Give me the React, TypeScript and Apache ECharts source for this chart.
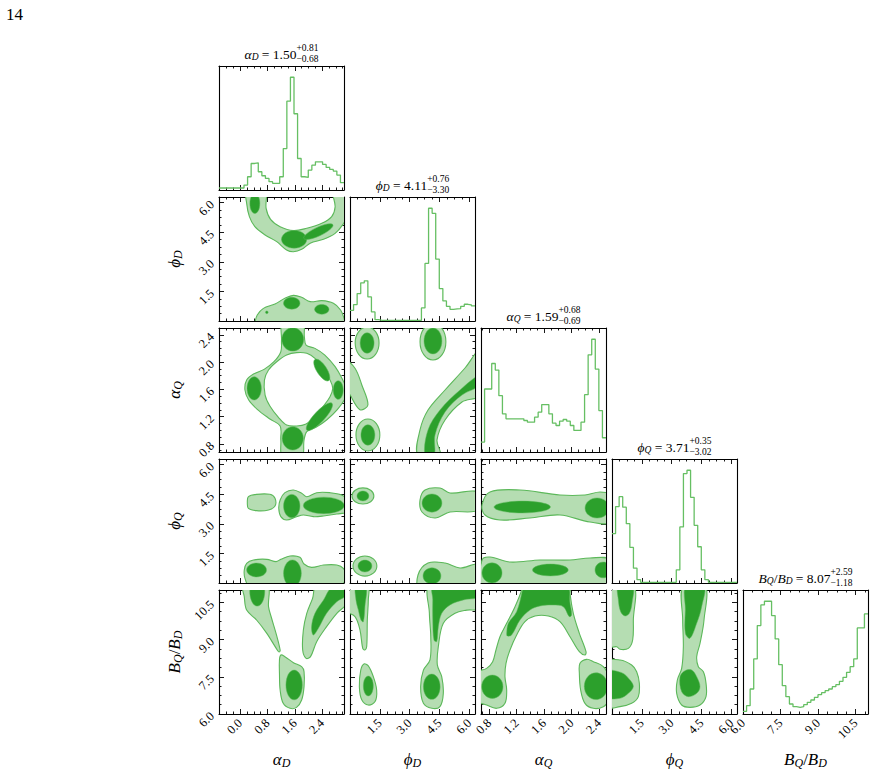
import React, { useEffect, useRef } from 'react';
import * as echarts from 'echarts';

const FONT = '"Liberation Serif", "DejaVu Serif", "Times New Roman", serif';
const LIGHT = '#b5ddb2';
const DARK = '#2ca02c';
const EDGE = '#5cb85a';
const HISTLINE = '#66bf63';

// ---------- axis ranges & ticks ----------
const rangeAlphaD = [-0.62, 3.04];
const rangePhiD = [0, 6.2832];
const rangeAlphaQ = [0.68, 2.5];
const rangePhiQ = [0, 6.2832];
const rangeRatio = [6.0, 11.0];

const ticksAlphaD = [0.0, 0.8, 1.6, 2.4];
const ticksPhiD = [1.5, 3.0, 4.5, 6.0];
const ticksAlphaQ = [0.8, 1.2, 1.6, 2.0, 2.4];
const ticksPhiQ = [1.5, 3.0, 4.5, 6.0];
const ticksRatio = [6.0, 7.5, 9.0, 10.5];
const minorSteps = [0.2, 0.375, 0.1, 0.375, 0.375];

// ---------- 1D marginal histograms (35 bins over each axis range) ----------
const histAlphaD = [6, 6, 6, 6, 6, 6, 6, 15, 40, 80, 82, 55, 43, 35, 25, 20, 20, 40, 125, 268, 340, 230, 95, 40, 38, 60, 75, 85, 85, 77, 68, 62, 57, 45, 22];
const histPhiD = [32, 49, 82, 114, 120, 72, 27, 4, 2, 2, 2, 2, 2, 2, 2, 2, 2, 2, 2, 2, 39, 172, 337, 322, 185, 97, 60, 44, 35, 36, 37, 44, 50, 48, 45];
const histAlphaQ = [30, 190, 190, 267, 247, 170, 115, 100, 100, 100, 100, 100, 95, 90, 90, 105, 120, 143, 143, 115, 87, 80, 93, 98, 93, 80, 65, 65, 90, 173, 293, 340, 250, 125, 43];
const histPhiQ = [150, 232, 262, 230, 180, 108, 45, 10, 2, 2, 2, 2, 2, 2, 2, 2, 2, 2, 40, 170, 332, 342, 260, 175, 110, 40, 10, 2, 2, 2, 2, 2, 2, 2, 2];
const histRatio = [8, 25, 75, 165, 265, 327, 338, 338, 295, 225, 148, 85, 52, 30, 22, 20, 22, 28, 35, 42, 50, 58, 64, 70, 75, 82, 88, 98, 110, 125, 142, 165, 258, 258, 300];

// ---------- titles ----------
const titleMedian = ['1.50', '4.11', '1.59', '3.71', '8.07'];
const titlePlus = ['+0.81', '+0.76', '+0.68', '+0.35', '+2.59'];
const titleMinus = ['\u22120.68', '\u22123.30', '\u22120.69', '\u22123.02', '\u22121.18'];

// ---------- 2D credible-region contours (data coordinates) ----------
// k: 'o' outer (light) region, 'h' hole, 'i' inner (dark) region; p: polygon, e: [cx, cy, rx, ry, rotDeg]
const cAlphaDPhiD = [
  { k: 'o', p: [[0.19, 6.6], [0.19, 5.96], [0.27, 5.29], [0.43, 4.78], [0.73, 4.36], [1.07, 4.02], [1.36, 3.6], [1.56, 3.51], [1.8, 3.63], [2.05, 3.94], [2.44, 4.14], [2.78, 4.44], [3.0, 4.87], [3.12, 5.29], [3.17, 5.96], [3.17, 6.6], [2.73, 6.6], [2.78, 5.79], [2.68, 5.29], [2.39, 4.95], [1.95, 4.7], [1.56, 4.58], [1.17, 4.78], [0.89, 5.15], [0.76, 5.71], [0.73, 6.6]] },
  { k: 'o', p: [[0.43, -0.12], [0.5, 0.3], [0.68, 0.64], [1.02, 0.86], [1.31, 1.15], [1.56, 1.3], [1.8, 1.2], [2.05, 0.98], [2.39, 1.03], [2.73, 0.9], [2.94, 0.56], [3.04, 0.14], [3.07, -0.12], [3.07, -0.6], [0.43, -0.6]] },
  { k: 'i', e: [0.43, 5.96, 0.146, 0.51, 0] },
  { k: 'i', e: [1.58, 4.14, 0.37, 0.45, 0] },
  { k: 'i', e: [2.29, 4.53, 0.47, 0.22, 25] },
  { k: 'i', e: [0.78, 0.44, 0.04, 0.07, 0] },
  { k: 'i', e: [1.51, 0.9, 0.24, 0.3, 0] },
  { k: 'i', e: [2.39, 0.59, 0.21, 0.25, 0] },
];

const cAlphaDAlphaQ = [
  { k: 'o', p: [[1.245, 2.6], [1.83, 2.6], [1.88, 2.372], [1.93, 2.25], [2.19, 2.201], [2.48, 2.103], [2.78, 1.932], [2.98, 1.761], [3.1, 1.614], [3.07, 1.467], [2.85, 1.306], [2.53, 1.149], [2.22, 1.042], [1.95, 0.978], [1.87, 0.856], [1.8, 0.6], [1.245, 0.6], [1.19, 0.856], [1.17, 1.061], [0.87, 1.164], [0.5, 1.306], [0.25, 1.443], [0.14, 1.59], [0.19, 1.736], [0.39, 1.824], [0.7, 1.893], [0.99, 2.005], [1.19, 2.152], [1.21, 2.323]] },
  { k: 'h', p: [[1.36, 2.103], [1.655, 2.138], [1.95, 2.128], [2.19, 2.054], [2.44, 1.893], [2.63, 1.736], [2.71, 1.614], [2.63, 1.492], [2.44, 1.355], [2.19, 1.198], [1.93, 1.091], [1.655, 1.061], [1.36, 1.076], [1.12, 1.189], [0.87, 1.355], [0.73, 1.516], [0.71, 1.736], [0.83, 1.883], [1.07, 2.005]] },
  { k: 'i', e: [1.54, 2.333, 0.32, 0.171, 0] },
  { k: 'i', e: [1.54, 0.88, 0.31, 0.171, 0] },
  { k: 'i', e: [0.41, 1.614, 0.21, 0.171, 0] },
  { k: 'i', e: [2.87, 1.59, 0.146, 0.137, 0] },
  { k: 'i', e: [2.39, 1.883, 0.37, 0.073, -57] },
  { k: 'i', e: [2.32, 1.198, 0.54, 0.078, 47] },
];

const cAlphaDPhiQ = [
  { k: 'o', p: [[0.24, 4.374], [0.48, 4.493], [0.87, 4.493], [1.02, 4.29], [1.02, 3.901], [0.83, 3.699], [0.48, 3.665], [0.24, 3.783], [0.21, 4.07]] },
  { k: 'o', p: [[1.17, 4.206], [1.31, 4.577], [1.56, 4.712], [1.8, 4.543], [1.95, 4.374], [2.24, 4.577], [2.63, 4.577], [2.97, 4.459], [3.12, 4.206], [3.12, 3.614], [2.83, 3.496], [2.44, 3.395], [2.14, 3.361], [1.85, 3.446], [1.65, 3.361], [1.36, 3.192], [1.19, 3.361], [1.13, 3.783]] },
  { k: 'o', p: [[0.12, 0.659], [0.19, 0.997], [0.39, 1.166], [0.78, 1.199], [1.05, 1.081], [1.19, 1.199], [1.46, 1.368], [1.75, 1.3], [1.87, 0.963], [2.09, 0.794], [2.44, 0.912], [2.83, 0.912], [3.02, 0.743], [3.1, 0.321], [3.02, -0.017], [2.83, -0.186], [0.29, -0.186], [0.14, 0.236]] },
  { k: 'i', e: [1.51, 3.9, 0.24, 0.59, 0] },
  { k: 'i', e: [2.45, 3.93, 0.6, 0.42, 0] },
  { k: 'i', e: [0.48, 0.66, 0.29, 0.35, 0] },
  { k: 'i', e: [1.53, 0.49, 0.26, 0.68, 0] },
];

const cAlphaDRatio = [
  { k: 'o', p: [[0.09, 11.2], [0.8, 11.2], [0.83, 10.33], [0.92, 9.86], [1.05, 9.25], [1.17, 8.58], [1.14, 8.5], [1.1, 8.55], [0.78, 9.25], [0.48, 9.79], [0.19, 10.19], [0.12, 10.73]] },
  { k: 'o', p: [[2.24, 11.2], [3.12, 11.2], [3.12, 10.462], [2.83, 10.059], [2.53, 9.521], [2.24, 8.917], [2.06, 8.312], [1.93, 8.245], [1.83, 8.581], [1.85, 9.387], [1.95, 10.059], [2.12, 10.664]] },
  { k: 'o', p: [[1.19, 8.379], [1.31, 8.312], [1.56, 8.07], [1.8, 7.909], [1.87, 7.707], [1.87, 7.102], [1.8, 6.564], [1.65, 6.269], [1.46, 6.229], [1.26, 6.43], [1.17, 6.967], [1.15, 7.64], [1.15, 8.177]] },
  { k: 'i', e: [0.5, 10.95, 0.22, 0.6, 0] },
  { k: 'i', p: [[2.14, 9.185], [2.09, 9.521], [2.19, 10.059], [2.44, 10.597], [2.68, 11.1], [3.12, 11.2], [3.12, 10.798], [2.83, 10.529], [2.53, 10.059], [2.29, 9.454]] },
  { k: 'i', e: [1.58, 7.17, 0.24, 0.6, 0] },
];

const cPhiDAlphaQ = [
  { k: 'o', e: [4.17, 2.3, 0.65, 0.27, 0] },
  { k: 'o', p: [[3.418, 0.636], [3.519, 1.003], [3.921, 1.296], [4.776, 1.59], [5.781, 1.913], [6.535, 2.177], [6.535, 1.517], [5.63, 1.414], [4.776, 1.15], [4.373, 0.856], [4.524, 0.636]] },
  { k: 'o', e: [0.86, 2.28, 0.6, 0.235, 0] },
  { k: 'o', e: [0.9, 0.93, 0.6, 0.235, 0] },
  { k: 'o', p: [[-0.25, 2.03], [0.25, 1.91], [0.6, 1.66], [0.9, 1.37], [0.5, 1.3], [0.0, 1.52], [-0.25, 1.66]] },
  { k: 'i', e: [4.17, 2.31, 0.45, 0.19, 0] },
  { k: 'i', p: [[3.77, 0.636], [3.921, 1.003], [4.524, 1.296], [5.53, 1.59], [6.535, 1.81], [6.535, 1.663], [5.63, 1.517], [4.776, 1.267], [4.273, 0.93], [4.222, 0.636]] },
  { k: 'i', e: [0.86, 2.28, 0.35, 0.15, 0] },
  { k: 'i', e: [0.9, 0.93, 0.35, 0.15, 0] },
];

const cPhiDPhiQ = [
  { k: 'o', e: [0.65, 4.41, 0.55, 0.41, 0] },
  { k: 'o', p: [[3.519, 4.206], [3.77, 4.712], [4.524, 4.814], [5.027, 4.56], [6.435, 4.611], [6.435, 3.699], [5.027, 3.598], [4.273, 3.294], [3.619, 3.598]] },
  { k: 'o', e: [0.75, 0.86, 0.6, 0.51, 0] },
  { k: 'o', p: [[3.519, -0.355], [3.418, 0.405], [3.921, 1.013], [4.776, 1.013], [5.53, 0.76], [6.435, 0.912], [6.435, -0.355]] },
  { k: 'i', e: [0.65, 4.41, 0.3, 0.25, 0] },
  { k: 'i', e: [4.12, 4.05, 0.5, 0.46, 0] },
  { k: 'i', e: [0.75, 0.86, 0.35, 0.3, 0] },
  { k: 'i', e: [4.12, 0.36, 0.45, 0.41, 0] },
];

const cPhiDRatio = [
  { k: 'o', p: [[-0.3, 11.2], [0.88, 11.2], [0.92, 10.6], [0.87, 9.79], [0.84, 8.72], [0.75, 8.58], [0.64, 8.65], [0.5, 9.39], [0.25, 9.93], [-0.3, 10.2]] },
  { k: 'o', p: [[4.02, 11.2], [3.99, 10.06], [4.06, 9.12], [4.02, 8.18], [3.69, 7.77], [3.55, 7.1], [3.69, 6.43], [4.11, 6.23], [4.52, 6.3], [4.69, 6.83], [4.61, 7.51], [4.39, 7.98], [4.44, 8.72], [4.69, 9.66], [5.28, 10.06], [5.87, 10.19], [6.5, 10.26], [6.5, 11.2]] },
  { k: 'o', p: [[0.54, 7.77], [0.7, 8.02], [0.92, 7.94], [1.17, 7.51], [1.34, 6.97], [1.26, 6.5], [0.92, 6.36], [0.59, 6.57], [0.47, 7.1]] },
  { k: 'i', p: [[0.3, 11.2], [0.8, 11.2], [0.75, 10.33], [0.67, 9.72], [0.55, 9.79], [0.42, 10.19], [0.3, 10.6]] },
  { k: 'i', p: [[4.19, 11.2], [6.5, 11.2], [6.5, 10.73], [5.7, 10.6], [5.03, 10.4], [4.61, 10.06], [4.44, 9.52], [4.36, 8.92], [4.22, 8.98], [4.16, 9.79], [4.16, 10.6]] },
  { k: 'i', e: [4.11, 7.1, 0.42, 0.51, 0] },
  { k: 'i', e: [0.92, 7.13, 0.25, 0.4, 0] },
];

const cAlphaQPhiQ = [
  { k: 'o', p: [[0.695, 3.952], [0.811, 4.611], [1.248, 4.712], [1.83, 4.459], [2.194, 4.459], [2.413, 4.611], [2.558, 4.459], [2.558, 3.091], [2.267, 3.091], [1.83, 3.446], [1.393, 3.294], [0.957, 3.192], [0.738, 3.446]] },
  { k: 'o', p: [[0.695, -0.355], [2.558, -0.355], [2.558, 1.165], [2.267, 1.267], [1.976, 1.165], [1.539, 1.165], [1.102, 1.064], [0.811, 1.317], [0.695, 1.165]] },
  { k: 'i', e: [1.28, 3.85, 0.41, 0.3, 0] },
  { k: 'i', e: [2.37, 3.8, 0.175, 0.51, 0] },
  { k: 'i', e: [0.84, 0.51, 0.146, 0.51, 0] },
  { k: 'i', e: [1.69, 0.66, 0.26, 0.3, 0] },
  { k: 'i', e: [2.46, 0.66, 0.12, 0.4, 0] },
];

const cAlphaQRatio = [
  { k: 'o', p: [[0.6, 7.64], [0.762, 7.841], [0.85, 8.11], [0.898, 8.581], [0.956, 9.118], [1.054, 9.656], [1.175, 10.328], [1.272, 11.0], [1.272, 11.2], [1.976, 11.2], [1.976, 10.865], [2.024, 10.059], [2.112, 9.253], [2.209, 8.513], [2.194, 8.379], [2.112, 8.513], [1.976, 9.118], [1.83, 9.723], [1.66, 9.951], [1.466, 9.951], [1.32, 9.723], [1.199, 9.185], [1.102, 8.581], [1.044, 8.043], [1.029, 7.505], [1.054, 6.967], [1.029, 6.43], [0.908, 6.229], [0.762, 6.363], [0.6, 6.565]] },
  { k: 'o', p: [[2.121, 8.043], [2.218, 8.204], [2.315, 8.11], [2.461, 7.909], [2.534, 7.505], [2.534, 6.565], [2.461, 6.296], [2.315, 6.229], [2.194, 6.43], [2.131, 6.967], [2.112, 7.64]] },
  { k: 'i', p: [[1.054, 9.253], [1.078, 9.656], [1.199, 10.126], [1.286, 11.027], [1.286, 11.2], [1.927, 11.2], [1.976, 10.462], [2.0, 9.992], [1.966, 9.925], [1.878, 10.328], [1.733, 10.395], [1.539, 10.355], [1.393, 10.193], [1.248, 9.79], [1.126, 9.185], [1.063, 9.145]] },
  { k: 'i', e: [0.845, 7.1, 0.155, 0.47, 0] },
  { k: 'i', e: [2.354, 7.12, 0.17, 0.54, 0] },
];

const cPhiQRatio = [
  { k: 'o', p: [[-0.3, 11.2], [1.073, 11.2], [1.073, 9.79], [1.039, 8.984], [0.821, 8.648], [0.402, 8.608], [0.235, 8.715], [-0.3, 8.715]] },
  { k: 'o', p: [[-0.3, 8.11], [0.402, 8.177], [0.989, 7.976], [1.24, 7.707], [1.374, 7.237], [1.324, 6.699], [0.989, 6.43], [0.402, 6.296], [-0.3, 6.296]] },
  { k: 'o', p: [[3.586, 11.2], [4.675, 11.2], [4.625, 9.79], [4.424, 8.85], [4.257, 8.312], [4.34, 7.909], [4.592, 7.707], [4.726, 7.237], [4.726, 6.699], [4.424, 6.363], [3.921, 6.269], [3.502, 6.363], [3.251, 6.833], [3.284, 7.371], [3.502, 7.841], [3.586, 8.715], [3.553, 9.79]] },
  { k: 'i', p: [[0.319, 11.2], [1.039, 11.2], [1.006, 10.462], [0.871, 10.059], [0.654, 9.952], [0.436, 10.126], [0.319, 10.597]] },
  { k: 'i', p: [[-0.3, 7.707], [0.486, 7.667], [0.905, 7.371], [1.073, 7.102], [0.821, 6.833], [0.402, 6.632], [-0.3, 6.699]] },
  { k: 'i', p: [[3.72, 11.2], [4.625, 11.2], [4.508, 10.328], [4.257, 9.656], [3.921, 9.051], [3.687, 9.253], [3.687, 10.193]] },
  { k: 'i', p: [[3.419, 7.505], [3.67, 7.747], [4.005, 7.774], [4.257, 7.505], [4.424, 7.102], [4.257, 6.833], [3.838, 6.699], [3.502, 6.9]] },
];

// ---------- layout ----------
const PANEL_LEFT = 219;
const PANEL_TOP = 66;
const PANEL_STEP = 131;
const PANEL_W = 125;
const PANEL_H = 124;

const ranges = [rangeAlphaD, rangePhiD, rangeAlphaQ, rangePhiQ, rangeRatio];
const majors = [ticksAlphaD, ticksPhiD, ticksAlphaQ, ticksPhiQ, ticksRatio];
const hists = [histAlphaD, histPhiD, histAlphaQ, histPhiQ, histRatio];
const contourPanels: any[] = [
  [1, 0, cAlphaDPhiD], [2, 0, cAlphaDAlphaQ], [3, 0, cAlphaDPhiQ], [4, 0, cAlphaDRatio],
  [2, 1, cPhiDAlphaQ], [3, 1, cPhiDPhiQ], [4, 1, cPhiDRatio],
  [3, 2, cAlphaQPhiQ], [4, 2, cAlphaQRatio],
  [4, 3, cPhiQRatio],
];
// symbol parts: [text, kind] kind 1 = italic main, 0 = italic subscript, 2 = upright main
const symbols: any[] = [
  [['\u03b1', 1], ['D', 0]],
  [['\u03d5', 1], ['D', 0]],
  [['\u03b1', 1], ['Q', 0]],
  [['\u03d5', 1], ['Q', 0]],
  [['B', 1], ['Q', 0], ['/', 2], ['B', 1], ['D', 0]],
];

let measureCtx: any = null;
function measure(text: string, size: number, italic: boolean) {
  if (!measureCtx) measureCtx = document.createElement('canvas').getContext('2d');
  measureCtx.font = `${italic ? 'italic ' : ''}${size}px ${FONT}`;
  return measureCtx.measureText(text).width;
}

function txt(text: string, x: number, y: number, size: number, italic: boolean) {
  return {
    type: 'text', x, y, silent: true,
    style: {
      text, font: `${italic ? 'italic ' : ''}${size}px ${FONT}`, fill: '#000',
      textAlign: 'left', textVerticalAlign: 'middle', align: 'left', verticalAlign: 'middle',
    },
  };
}

function symbolParts(sym: any[], main: number, sub: number, subDy: number) {
  return sym.map(([t, kind]: any) => (kind === 0
    ? { t, s: sub, it: true, dy: subDy }
    : { t, s: main, it: kind === 1, dy: 0 }));
}

function mathGroup(parts: any[], cx: number, cy: number, rotation: number) {
  let x = 0;
  const kids: any[] = [];
  for (const p of parts) {
    if (p.sup !== undefined) {
      const w = Math.max(measure(p.sup, p.s, false), measure(p.sub, p.s, false));
      kids.push(txt(p.sup, x, -p.up, p.s, false));
      kids.push(txt(p.sub, x, p.down, p.s, false));
      x += w;
    } else {
      kids.push(txt(p.t, x, p.dy, p.s, p.it));
      x += measure(p.t, p.s, p.it);
    }
  }
  const off = -x / 2;
  kids.forEach((k) => { k.x += off; });
  return { type: 'group', x: cx, y: cy, rotation, children: kids };
}

function minorValues(range: number[], step: number, maj: number[]) {
  const out: number[] = [];
  for (let v = Math.ceil(range[0] / step - 1e-9) * step; v <= range[1] + 1e-9; v += step) {
    if (!maj.some((m) => Math.abs(m - v) < 1e-6)) out.push(+v.toFixed(4));
  }
  return out;
}

function axis(gridIndex: number, range: number[], position: string, values: number[], len: number, label: boolean, line: boolean) {
  return {
    type: 'value', gridIndex, position, min: range[0], max: range[1],
    axisLine: { show: line, onZero: false, lineStyle: { color: '#000', width: 1.1 } },
    axisTick: { show: values.length > 0, inside: true, length: len, customValues: values, lineStyle: { color: '#000', width: 0.9 } },
    axisLabel: {
      show: label, customValues: values, rotate: 45, margin: 7, fontFamily: FONT, fontSize: 12.5, color: '#000',
      formatter: (v: any) => Number(v).toFixed(1),
    },
    splitLine: { show: false },
    minorTick: { show: false },
  };
}

function buildOption() {
  const grid: any[] = [];
  const xAxis: any[] = [];
  const yAxis: any[] = [];
  const series: any[] = [];
  const panelIndex: any = {};

  for (let r = 0; r < 5; r++) {
    for (let c = 0; c <= r; c++) {
      const gi = grid.length;
      grid.push({ left: PANEL_LEFT + c * PANEL_STEP, top: PANEL_TOP + r * PANEL_STEP, width: PANEL_W, height: PANEL_H });
      const xr = ranges[c];
      const xMinor = minorValues(xr, minorSteps[c], majors[c]);
      const xi = xAxis.length;
      xAxis.push(axis(gi, xr, 'bottom', majors[c], 5, r === 4, true));
      xAxis.push(axis(gi, xr, 'bottom', xMinor, 2.5, false, false));
      xAxis.push(axis(gi, xr, 'top', majors[c], 5, false, true));
      xAxis.push(axis(gi, xr, 'top', xMinor, 2.5, false, false));
      const yi = yAxis.length;
      if (r === c) {
        const h = hists[c];
        const ymax = 1.1 * Math.max(...h);
        yAxis.push(axis(gi, [0, ymax], 'left', [], 0, false, true));
        yAxis.push(axis(gi, [0, ymax], 'right', [], 0, false, true));
        const w = (xr[1] - xr[0]) / h.length;
        const data: any[] = h.map((v, k) => [xr[0] + k * w, v]);
        data.push([xr[1], h[h.length - 1]]);
        series.push({
          type: 'line', xAxisIndex: xi, yAxisIndex: yi, data, step: 'end', symbol: 'none', showSymbol: false,
          lineStyle: { color: HISTLINE, width: 1.3 }, silent: true, clip: true,
        });
      } else {
        const yr = ranges[r];
        const yMinor = minorValues(yr, minorSteps[r], majors[r]);
        yAxis.push(axis(gi, yr, 'left', majors[r], 5, c === 0, true));
        yAxis.push(axis(gi, yr, 'left', yMinor, 2.5, false, false));
        yAxis.push(axis(gi, yr, 'right', majors[r], 5, false, true));
        yAxis.push(axis(gi, yr, 'right', yMinor, 2.5, false, false));
        panelIndex[r + '_' + c] = [xi, yi];
      }
    }
  }

  for (const [r, c, shapes] of contourPanels) {
    const [xi, yi] = panelIndex[r + '_' + c];
    series.push({
      type: 'custom', coordinateSystem: 'cartesian2d', xAxisIndex: xi, yAxisIndex: yi, clip: true, silent: true,
      data: shapes.map((_: any, i: number) => [i, i]),
      renderItem: (params: any, api: any) => {
        const s = shapes[params.dataIndex];
        const style = s.k === 'o'
          ? { fill: LIGHT, stroke: EDGE, lineWidth: 1.1 }
          : s.k === 'h' ? { fill: '#ffffff', stroke: EDGE, lineWidth: 1.1 } : { fill: DARK, stroke: EDGE, lineWidth: 0.5 };
        if (s.p) {
          return { type: 'polygon', shape: { points: s.p.map((pt: number[]) => api.coord(pt)), smooth: 0.35 }, style };
        }
        const [cx, cy, rx, ry, rot] = s.e;
        const cc = api.coord([cx, cy]);
        const sz = api.size([rx, ry]);
        return {
          type: 'ellipse', x: cc[0], y: cc[1], rotation: (rot * Math.PI) / 180,
          shape: { cx: 0, cy: 0, rx: sz[0], ry: sz[1] }, style,
        };
      },
    });
  }

  const graphic: any[] = [];
  graphic.push(txt('14', 6, 14, 17, false));
  for (let i = 0; i < 5; i++) {
    const cx = PANEL_LEFT + i * PANEL_STEP + PANEL_W / 2;
    // title above diagonal
    const tparts = symbolParts(symbols[i], 13.5, 9.5, 3);
    tparts.push({ t: ` = ${titleMedian[i]}`, s: 13.5, it: false, dy: 0 });
    tparts.push({ sup: titlePlus[i], sub: titleMinus[i], s: 9.5, up: 6.5, down: 4.5 } as any);
    graphic.push(mathGroup(tparts, cx, PANEL_TOP + i * PANEL_STEP - 12, 0));
    // bottom axis names
    graphic.push(mathGroup(symbolParts(symbols[i], 17, 12, 4), cx, 759, 0));
    // left axis names
    if (i > 0) {
      const cy = PANEL_TOP + i * PANEL_STEP + PANEL_H / 2;
      graphic.push(mathGroup(symbolParts(symbols[i], 17, 12, 4), 174, cy, Math.PI / 2));
    }
  }

  return { animation: false, backgroundColor: '#ffffff', grid, xAxis, yAxis, series, graphic };
}

export default function App() {
  const ref = useRef<HTMLDivElement>(null);
  useEffect(() => {
    if (!ref.current) return;
    const chart = echarts.init(ref.current, undefined, { renderer: 'svg' });
    chart.setOption(buildOption() as any);
    return () => chart.dispose();
  }, []);
  return <div ref={ref} style={{ position: 'absolute', left: 0, top: 0, width: 875, height: 774, background: '#fff' }} />;
}
